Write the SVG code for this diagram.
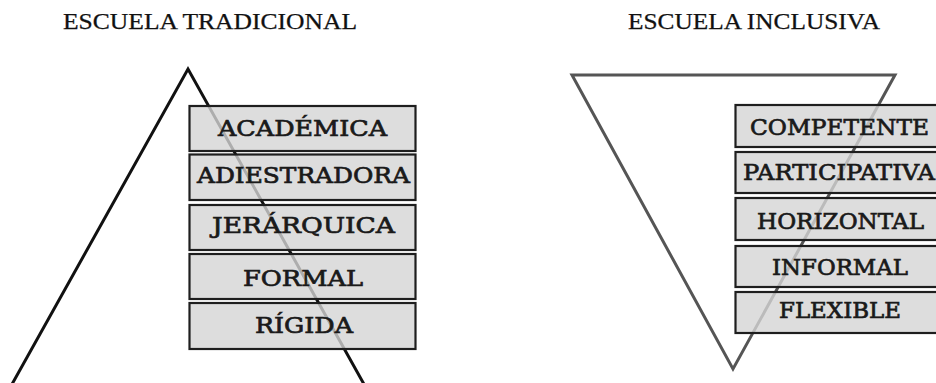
<svg xmlns="http://www.w3.org/2000/svg" width="936" height="383" viewBox="0 0 936 383">
<style>
.title{font-family:"Liberation Serif","Times New Roman",serif;font-size:22.5px;fill:#111;stroke:#111;stroke-width:0.25}
.box rect{fill:#d4d4d4;fill-opacity:0.8;stroke:#1e1e1e;stroke-width:2.2}
.box text{font-family:"DejaVu Serif","Liberation Serif",serif;font-size:22.5px;fill:#1a1a1a;stroke:#1a1a1a;stroke-width:0.7;text-anchor:middle}
.tri1{fill:none;stroke:#111;stroke-width:3;stroke-linejoin:miter}
.tri2{fill:none;stroke:#555;stroke-width:3}
</style>
<rect width="936" height="383" fill="#fff"/>
<text class="title" x="63" y="29" textLength="294" lengthAdjust="spacingAndGlyphs">ESCUELA TRADICIONAL</text>
<text class="title" x="628" y="29" textLength="252" lengthAdjust="spacingAndGlyphs">ESCUELA INCLUSIVA</text>
<g id="shapes">
<polyline class="tri1" points="11,386 188,69 365,386"/>
<polygon class="tri2" points="572,75 895,75 733,369"/>
</g>
<g id="traditional">
<g id="n-academica" class="box"><rect x="189.5" y="106" width="226" height="45"/><text x="302.5" y="136" textLength="169" lengthAdjust="spacingAndGlyphs">ACADÉMICA</text></g>
<g id="n-adiestradora" class="box"><rect x="189.5" y="154.5" width="226" height="45.5"/><text x="303.5" y="183" textLength="213" lengthAdjust="spacingAndGlyphs">ADIESTRADORA</text></g>
<g id="n-jerarquica" class="box"><rect x="189.5" y="205" width="226" height="45"/><text x="303.5" y="233" textLength="183" lengthAdjust="spacingAndGlyphs">JERÁRQUICA</text></g>
<g id="n-formal" class="box"><rect x="189.5" y="254" width="226" height="45"/><text x="303" y="286" textLength="120" lengthAdjust="spacingAndGlyphs">FORMAL</text></g>
<g id="n-rigida" class="box"><rect x="189.5" y="303" width="226" height="46"/><text x="304" y="333" textLength="98" lengthAdjust="spacingAndGlyphs">RÍGIDA</text></g>
</g>
<g id="inclusive">
<g id="n-competente" class="box"><rect x="735.5" y="105" width="210" height="42"/><text x="839.5" y="135" textLength="179" lengthAdjust="spacingAndGlyphs">COMPETENTE</text></g>
<g id="n-participativa" class="box"><rect x="735.5" y="152" width="210" height="41"/><text x="839" y="180" textLength="192" lengthAdjust="spacingAndGlyphs">PARTICIPATIVA</text></g>
<g id="n-horizontal" class="box"><rect x="735.5" y="198" width="210" height="42"/><text x="840.5" y="229" textLength="167" lengthAdjust="spacingAndGlyphs">HORIZONTAL</text></g>
<g id="n-informal" class="box"><rect x="735.5" y="246" width="210" height="41"/><text x="840" y="275" textLength="136" lengthAdjust="spacingAndGlyphs">INFORMAL</text></g>
<g id="n-flexible" class="box"><rect x="735.5" y="292" width="210" height="41"/><text x="840" y="318" textLength="122" lengthAdjust="spacingAndGlyphs">FLEXIBLE</text></g>
</g>
<g id="connectors"></g>
</svg>
